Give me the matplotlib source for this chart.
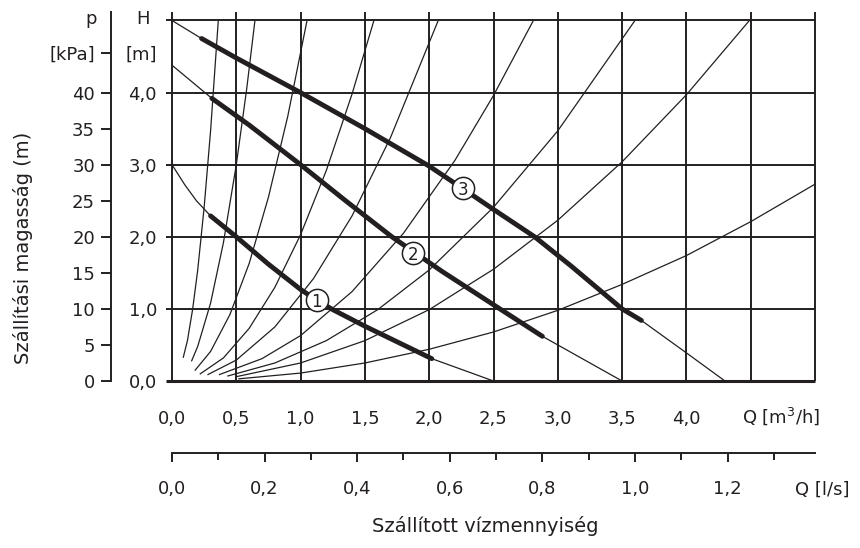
import matplotlib
matplotlib.use("Agg")
import matplotlib.pyplot as plt

INK = "#231f20"

# pump curves: Q [m3/h], H [m]; thin line = whole curve, thick = working range
PUMP1_Q = [0.0, 0.10, 0.19, 0.30, 0.50, 0.75, 1.00, 1.125, 1.25, 1.50, 2.02, 2.50]
PUMP1_H = [3.00, 2.72, 2.50, 2.29, 2.00, 1.62, 1.27, 1.12, 0.99, 0.76, 0.31, 0.00]
PUMP1_RANGE = (0.30, 2.02)

PUMP2_Q = [0.0, 0.31, 0.60, 1.00, 1.35, 1.71, 1.88, 2.10, 2.55, 2.88, 3.50]
PUMP2_H = [4.38, 3.92, 3.55, 3.00, 2.50, 2.00, 1.79, 1.52, 1.00, 0.62, 0.00]
PUMP2_RANGE = (0.31, 2.88)

PUMP3_Q = [0.0, 0.23, 0.50, 1.00, 1.50, 2.00, 2.26, 2.50, 2.82, 3.10, 3.50, 3.65, 4.00, 4.30]
PUMP3_H = [5.00, 4.75, 4.48, 4.00, 3.50, 2.98, 2.67, 2.38, 2.00, 1.60, 1.00, 0.84, 0.39, 0.00]
PUMP3_RANGE = (0.23, 3.65)

# circled curve numbers
LABEL_Q = [1.125, 1.877, 2.26]
LABEL_H = [1.12, 1.77, 2.67]
LABEL_TXT = ["1", "2", "3"]

# system (pipe) curves
SYSTEM_Q = [
    [0.088, 0.12, 0.16, 0.20, 0.25, 0.30, 0.36],
    [0.153, 0.20, 0.30, 0.40, 0.50, 0.58, 0.645],
    [0.18, 0.30, 0.45, 0.60, 0.75, 0.90, 1.05],
    [0.22, 0.40, 0.60, 0.80, 1.00, 1.20, 1.40, 1.57],
    [0.28, 0.50, 0.80, 1.10, 1.40, 1.70, 2.07],
    [0.37, 0.70, 1.00, 1.40, 1.80, 2.20, 2.50, 2.81],
    [0.435, 0.80, 1.20, 1.60, 2.00, 2.50, 3.00, 3.60],
    [0.50, 1.00, 1.50, 2.00, 2.50, 3.00, 3.50, 4.00, 4.49],
    [0.52, 1.00, 1.50, 2.00, 2.50, 3.00, 3.50, 4.00, 4.50, 5.00],
]
SYSTEM_H = [
    [0.33, 0.56, 0.99, 1.54, 2.41, 3.47, 5.00],
    [0.28, 0.48, 1.08, 1.92, 3.00, 4.04, 5.00],
    [0.15, 0.41, 0.92, 1.63, 2.55, 3.67, 5.00],
    [0.10, 0.32, 0.73, 1.30, 2.03, 2.92, 3.98, 5.00],
    [0.09, 0.29, 0.75, 1.42, 2.29, 3.38, 5.00],
    [0.09, 0.31, 0.63, 1.24, 2.05, 3.06, 3.96, 5.00],
    [0.07, 0.25, 0.56, 0.99, 1.54, 2.41, 3.47, 5.00],
    [0.06, 0.25, 0.56, 0.99, 1.55, 2.23, 3.04, 3.97, 5.00],
    [0.03, 0.11, 0.25, 0.44, 0.68, 0.98, 1.34, 1.74, 2.21, 2.73],
]

# axes / ticks
Q_GRID = [0.0, 0.5, 1.0, 1.5, 2.0, 2.5, 3.0, 3.5, 4.0, 4.5, 5.0]
H_GRID = [0, 1, 2, 3, 4, 5]
Q_TICKS = [0.0, 0.5, 1.0, 1.5, 2.0, 2.5, 3.0, 3.5, 4.0]
H_TICKS = [0, 1, 2, 3, 4]
P_TICKS = [0, 5, 10, 15, 20, 25, 30, 35, 40]
LS_TICKS = [0.0, 0.2, 0.4, 0.6, 0.8, 1.0, 1.2]
LS_MINOR = [0.1, 0.3, 0.5, 0.7, 0.9, 1.1, 1.3]
UNIT_H = 4.55   # height of the "[m]" / "[kPa]" unit labels


def comma(v):
    return f"{v:.1f}".replace(".", ",")


# pixel layout of the reference
W, HP = 860, 548
X0, X1 = 172, 815
Y0, Y5, YTOP = 381, 20.5, 12
P_X = 111
LS_Y = 452.7

plt.rcParams.update({"font.family": "DejaVu Sans", "font.size": 13,
                     "text.color": INK, "mathtext.fontset": "dejavusans"})

fig = plt.figure(figsize=(W / 100, HP / 100), dpi=100)

ax = fig.add_axes([X0 / W, 1 - Y0 / HP, (X1 - X0) / W, (Y0 - Y5) / HP])
ax.set_xlim(0, 5)
ax.set_ylim(0, 5)
ax.patch.set_visible(False)
for s in ax.spines.values():
    s.set_visible(False)

h_top = 5 * (Y0 - YTOP) / (Y0 - Y5)
ext = 6 / (X1 - X0) * 5
ax.vlines(Q_GRID, 0, h_top, color=INK, lw=1.4, clip_on=False, zorder=1)
ax.hlines(H_GRID[1:], -ext, 5, color=INK, lw=1.4, clip_on=False, zorder=1)
ax.hlines(0, -ext, 5, color=INK, lw=2.2, clip_on=False, zorder=1)

for q, h in zip(SYSTEM_Q, SYSTEM_H):
    ax.plot(q, h, color=INK, lw=0.9, zorder=2)

for q, h, (qa, qb) in [(PUMP1_Q, PUMP1_H, PUMP1_RANGE),
                       (PUMP2_Q, PUMP2_H, PUMP2_RANGE),
                       (PUMP3_Q, PUMP3_H, PUMP3_RANGE)]:
    ax.plot(q, h, color=INK, lw=0.9, zorder=3)
    tq = [a for a in q if qa <= a <= qb]
    th = [b for a, b in zip(q, h) if qa <= a <= qb]
    ax.plot(tq, th, color=INK, lw=3.5, solid_capstyle="round",
            solid_joinstyle="round", zorder=4)

ax.plot(LABEL_Q, LABEL_H, "o", ms=16, mfc="white", mec=INK, mew=1.1, zorder=5)
for q, h, t in zip(LABEL_Q, LABEL_H, LABEL_TXT):
    ax.text(q, h - 0.02, t, ha="center", va="center", fontsize=12, zorder=6)

ax.set_xticks(Q_TICKS, labels=[comma(v) for v in Q_TICKS])
ax.set_yticks(H_TICKS + [UNIT_H], labels=[comma(v) for v in H_TICKS] + ["[m]"])
ax.tick_params(axis="x", length=0, pad=21, labelsize=13, labelcolor=INK)
ax.tick_params(axis="y", length=0, pad=10.8, labelsize=13, labelcolor=INK)

# second flow axis in l/s
ax2 = fig.add_axes([X0 / W, 1 - LS_Y / HP, (X1 - X0) / W, 1e-4])
ax2.set_xlim(0, 5 / 3.6)
ax2.patch.set_visible(False)
for k in ["top", "left", "right"]:
    ax2.spines[k].set_visible(False)
ax2.spines["bottom"].set_linewidth(1.4)
ax2.spines["bottom"].set_color(INK)
ax2.set_yticks([])
ax2.set_xticks(LS_TICKS, labels=[comma(v) for v in LS_TICKS])
ax2.set_xticks(LS_MINOR, minor=True)
ax2.tick_params(axis="x", which="major", length=6.5, width=1.4, color=INK,
                pad=13, labelsize=13, labelcolor=INK)
ax2.tick_params(axis="x", which="minor", length=4.7, width=1.4, color=INK)

# pressure axis in kPa
ax3 = fig.add_axes([P_X / W, 1 - Y0 / HP, 1e-4, (Y0 - YTOP) / HP])
ax3.set_ylim(0, 50 * (Y0 - YTOP) / (Y0 - Y5))
ax3.patch.set_visible(False)
for k in ["top", "bottom", "right"]:
    ax3.spines[k].set_visible(False)
ax3.spines["left"].set_linewidth(1.4)
ax3.spines["left"].set_color(INK)
ax3.set_xticks([])
ax3.set_yticks(P_TICKS + [UNIT_H * 10], labels=[str(v) for v in P_TICKS] + ["[kPa]"])
ax3.tick_params(axis="y", length=7.2, width=1.4, color=INK, pad=4.3,
                labelsize=13, labelcolor=INK)

fig.text(91 / W, 1 - 19 / HP, "p", ha="center", va="center", fontsize=13)
fig.text(143 / W, 1 - 19 / HP, "H", ha="center", va="center", fontsize=13)
fig.text(742 / W, 1 - 416 / HP, "Q [m$^3$/h]", ha="left", va="center", fontsize=13)
fig.text(795 / W, 1 - 490 / HP, "Q [l/s]", ha="left", va="center", fontsize=13)
fig.text(485 / W, 1 - 526 / HP, "Szállított vízmennyiség", ha="center", va="center",
         fontsize=14)
fig.text(23 / W, 1 - 248 / HP, "Szállítási magasság (m)", ha="center", va="center",
         rotation=90, fontsize=14)

fig.savefig("out.png", dpi=100)
